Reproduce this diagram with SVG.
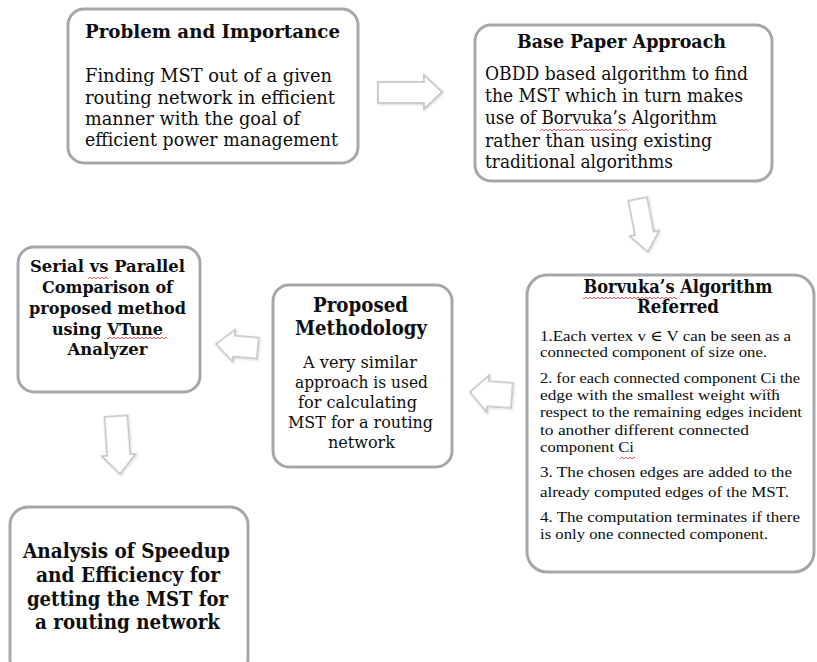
<svg xmlns="http://www.w3.org/2000/svg" width="817" height="662" viewBox="0 0 817 662">
<defs>
<style>
.box{fill:#fff;stroke:#a4a7ab;stroke-width:3}
.t{font-family:"DejaVu Serif","Liberation Serif",serif;fill:#0d0d0d}
.s{font-family:"Liberation Serif","DejaVu Serif",serif;font-size:15px}
.b{font-weight:bold}
.m{text-anchor:middle}
.arr{fill:#fff;stroke:#c2c2c2;stroke-width:1.6;stroke-linejoin:miter;filter:url(#sh)}
</style>
<filter id="sh" x="-20%" y="-20%" width="140%" height="140%">
<feDropShadow dx="0.8" dy="0.8" stdDeviation="0.9" flood-color="#000" flood-opacity="0.18"/>
</filter>
<pattern id="sq" patternUnits="userSpaceOnUse" x="0" y="0" width="4" height="4">
<polyline points="0,3 2,1 4,3" fill="none" stroke="#e0302a" stroke-width="0.8"/>
</pattern>
</defs>
<rect width="817" height="662" fill="#fff"/>

<g id="connectors">
<polygon class="arr" points="378,82 424,82 424,75 442,92 424,109 424,103 378,103"/>
<polygon class="arr" transform="translate(648,252) rotate(-11)" points="0,0 -15,-19 -9.5,-19 -9.5,-54 9.5,-54 9.5,-19 15,-19"/>
<polygon class="arr" transform="translate(470,392) rotate(4)" points="0,0 18,-18 18,-12 42,-12 42,13 18,13 18,19"/>
<polygon class="arr" transform="translate(216,344) rotate(5)" points="0,0 18,-16 18,-10 42,-10 42,11 18,11 18,16"/>
<polygon class="arr" transform="translate(120,474) rotate(-4)" points="0,0 -17,-19 -11.5,-19 -11.5,-58 11.5,-58 11.5,-19 17,-19"/>
</g>

<g id="problem">
<rect class="box" x="68" y="9" width="290" height="154" rx="16"/>
<text class="t b m" x="212.5" y="38" font-size="19" textLength="255" lengthAdjust="spacingAndGlyphs">Problem and Importance</text>
<text class="t" x="85" y="82" font-size="19" textLength="247" lengthAdjust="spacingAndGlyphs">Finding MST out of a given</text>
<text class="t" x="85" y="103.5" font-size="19" textLength="250" lengthAdjust="spacingAndGlyphs">routing network in efficient</text>
<text class="t" x="85" y="125" font-size="19" textLength="215" lengthAdjust="spacingAndGlyphs">manner with the goal of</text>
<text class="t" x="85" y="146" font-size="19" textLength="253" lengthAdjust="spacingAndGlyphs">efficient power management</text>
</g>

<g id="base">
<rect class="box" x="475" y="25" width="297" height="156" rx="16"/>
<text class="t b m" x="621.5" y="48" font-size="18" textLength="209" lengthAdjust="spacingAndGlyphs">Base Paper Approach</text>
<text class="t" x="485" y="80" font-size="19" textLength="263" lengthAdjust="spacingAndGlyphs">OBDD based algorithm to find</text>
<text class="t" x="485" y="102" font-size="19" textLength="258" lengthAdjust="spacingAndGlyphs">the MST which in turn makes</text>
<text class="t" x="485" y="124" font-size="19" textLength="232" lengthAdjust="spacingAndGlyphs">use of Borvuka’s Algorithm</text>
<text class="t" x="485" y="147" font-size="19" textLength="227" lengthAdjust="spacingAndGlyphs">rather than using existing</text>
<text class="t" x="485" y="168" font-size="19" textLength="188" lengthAdjust="spacingAndGlyphs">traditional algorithms</text>
<rect x="540" y="128" width="88" height="4" fill="url(#sq)"/>
</g>

<g id="borvuka">
<rect class="box" x="527" y="275" width="287" height="297" rx="20"/>
<text class="t b m" x="678" y="293" font-size="18" textLength="189" lengthAdjust="spacingAndGlyphs">Borvuka’s Algorithm</text>
<text class="t b m" x="678" y="313" font-size="18" textLength="82" lengthAdjust="spacingAndGlyphs">Referred</text>
<rect x="583" y="296" width="94" height="4" fill="url(#sq)"/>
<text class="t s" x="540" y="341" textLength="251" lengthAdjust="spacingAndGlyphs">1.Each vertex v ∈ V can be seen as a</text>
<text class="t s" x="540" y="357" textLength="227" lengthAdjust="spacingAndGlyphs">connected component of size one.</text>
<text class="t s" x="540" y="383" textLength="260" lengthAdjust="spacingAndGlyphs">2. for each connected component Ci the</text>
<text class="t s" x="540" y="400" textLength="240" lengthAdjust="spacingAndGlyphs">edge with the smallest weight with</text>
<text class="t s" x="540" y="417" textLength="262" lengthAdjust="spacingAndGlyphs">respect to the remaining edges incident</text>
<text class="t s" x="540" y="435" textLength="209" lengthAdjust="spacingAndGlyphs">to another different connected</text>
<text class="t s" x="540" y="452" textLength="94" lengthAdjust="spacingAndGlyphs">component Ci</text>
<text class="t s" x="540" y="477" textLength="252" lengthAdjust="spacingAndGlyphs">3. The chosen edges are added to the</text>
<text class="t s" x="540" y="497" textLength="249" lengthAdjust="spacingAndGlyphs">already computed edges of the MST.</text>
<text class="t s" x="540" y="522" textLength="260" lengthAdjust="spacingAndGlyphs">4. The computation terminates if there</text>
<text class="t s" x="540" y="539" textLength="228" lengthAdjust="spacingAndGlyphs">is only one connected component.</text>
<rect x="762" y="388" width="16" height="4" fill="url(#sq)"/>
<rect x="620" y="456" width="15" height="4" fill="url(#sq)"/>
</g>

<g id="serial">
<rect class="box" x="18" y="247" width="182" height="145" rx="16"/>
<text class="t b m" x="107.5" y="272" font-size="17.5" textLength="155" lengthAdjust="spacingAndGlyphs">Serial vs Parallel</text>
<text class="t b m" x="107.5" y="293" font-size="17.5" textLength="131" lengthAdjust="spacingAndGlyphs">Comparison of</text>
<text class="t b m" x="107.5" y="314" font-size="17.5" textLength="157" lengthAdjust="spacingAndGlyphs">proposed method</text>
<text class="t b m" x="107.5" y="335" font-size="17.5" textLength="111" lengthAdjust="spacingAndGlyphs">using VTune</text>
<text class="t b m" x="107.5" y="355" font-size="17.5" textLength="80" lengthAdjust="spacingAndGlyphs">Analyzer</text>
<rect x="88" y="276" width="20" height="4" fill="url(#sq)"/>
<rect x="107" y="336" width="60" height="4" fill="url(#sq)"/>
</g>

<g id="proposed">
<rect class="box" x="273" y="285" width="179" height="182" rx="16"/>
<text class="t b m" x="360.5" y="312" font-size="21" textLength="95" lengthAdjust="spacingAndGlyphs">Proposed</text>
<text class="t b m" x="361" y="335" font-size="21" textLength="132" lengthAdjust="spacingAndGlyphs">Methodology</text>
<text class="t m" x="360" y="368" font-size="17.5" textLength="114" lengthAdjust="spacingAndGlyphs">A very similar</text>
<text class="t m" x="361.5" y="388" font-size="17.5" textLength="133" lengthAdjust="spacingAndGlyphs">approach is used</text>
<text class="t m" x="357.5" y="408" font-size="17.5" textLength="119" lengthAdjust="spacingAndGlyphs">for calculating</text>
<text class="t m" x="360.5" y="428" font-size="17.5" textLength="145" lengthAdjust="spacingAndGlyphs">MST for a routing</text>
<text class="t m" x="361.5" y="448" font-size="17.5" textLength="67" lengthAdjust="spacingAndGlyphs">network</text>
</g>

<g id="analysis">
<rect class="box" x="10" y="507" width="238" height="170" rx="18"/>
<text class="t b m" x="126.5" y="558" font-size="19.5" textLength="207" lengthAdjust="spacingAndGlyphs">Analysis of Speedup</text>
<text class="t b m" x="128" y="582" font-size="19.5" textLength="184" lengthAdjust="spacingAndGlyphs">and Efficiency for</text>
<text class="t b m" x="127.5" y="606" font-size="19.5" textLength="201" lengthAdjust="spacingAndGlyphs">getting the MST for</text>
<text class="t b m" x="127.5" y="629" font-size="19.5" textLength="185" lengthAdjust="spacingAndGlyphs">a routing network</text>
</g>
</svg>
